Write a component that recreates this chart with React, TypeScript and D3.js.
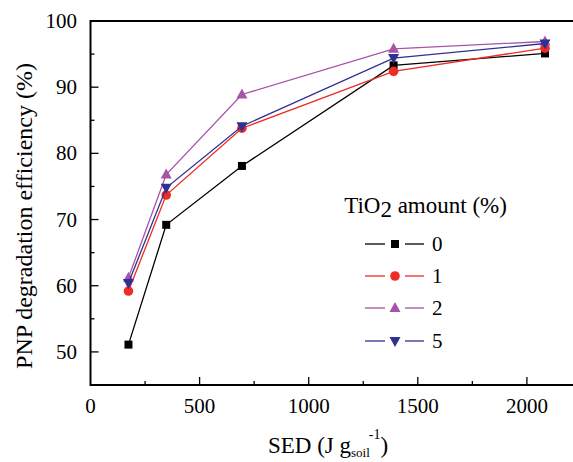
import React from "react";
import * as d3 from "d3";

const sed = [174, 347, 694, 1389, 2083];
const seriesNames = ["0", "1", "2", "5"];
const eff0 = [51.1, 69.2, 78.1, 93.3, 95.1];
const eff1 = [59.2, 73.7, 83.8, 92.4, 95.9];
const eff2 = [61.2, 76.8, 88.9, 95.8, 96.9];
const eff5 = [60.4, 74.8, 84.1, 94.4, 96.6];
const xTicks = [0, 500, 1000, 1500, 2000];
const yTicks = [50, 60, 70, 80, 90, 100];

const W = 573, H = 462;
const left = 90.5, top = 21, bottom = 385;

export default function App() {
  const x = d3.scaleLinear().domain([0, 2200]).range([left, left + 2200 * 0.2182]);
  const y = d3.scaleLinear().domain([45, 100]).range([bottom, top]);
  const series = [
    { name: seriesNames[0], vals: eff0, color: "#000000", shape: "square" },
    { name: seriesNames[1], vals: eff1, color: "#ee2b25", shape: "circle" },
    { name: seriesNames[2], vals: eff2, color: "#a653a8", shape: "up" },
    { name: seriesNames[3], vals: eff5, color: "#2f3191", shape: "down" },
  ];
  const line = d3.line<number>().x((_, i) => x(sed[i])).y((d) => y(d));
  const marker = (shape: string, cx: number, cy: number, color: string, key?: any) => {
    if (shape === "square") return <rect key={key} x={cx - 4} y={cy - 4} width={8} height={8} fill={color} />;
    if (shape === "circle") return <circle key={key} cx={cx} cy={cy} r={4.8} fill={color} />;
    if (shape === "up") return <path key={key} d={`M${cx},${cy - 6}L${cx + 5.5},${cy + 4}L${cx - 5.5},${cy + 4}Z`} fill={color} />;
    return <path key={key} d={`M${cx},${cy + 6}L${cx + 5.5},${cy - 4}L${cx - 5.5},${cy - 4}Z`} fill={color} />;
  };
  const font = "Liberation Serif";
  const ts = { fontFamily: font };
  const xMinor = d3.range(250, 2200, 500);
  const yMinor = d3.range(55, 100, 10);
  const legendY = [244, 276, 308, 341];
  return (
    <svg width={W} height={H} style={{ position: "absolute", left: 0, top: 0, background: "#fff", fontFamily: font }}>
      {series.map((s) => (
        <g key={s.name}>
          <path d={line(s.vals) || ""} fill="none" stroke={s.color} strokeWidth={1.3} />
          {s.vals.map((v, i) => marker(s.shape, x(sed[i]), y(v), s.color, i))}
        </g>
      ))}
      <line x1={left} x2={W} y1={top} y2={top} stroke="#000" strokeWidth={2} />
      <line x1={left} x2={W} y1={bottom} y2={bottom} stroke="#000" strokeWidth={2} />
      <line x1={left} x2={left} y1={top - 1} y2={bottom + 1} stroke="#000" strokeWidth={2} />
      {xTicks.map((t) => (
        <g key={t}>
          {t > 0 && <line x1={x(t)} x2={x(t)} y1={bottom} y2={bottom - 8} stroke="#000" strokeWidth={1.3} />}
          <text style={ts} x={x(t)} y={413} textAnchor="middle" fontSize={21}>{t}</text>
        </g>
      ))}
      {xMinor.map((t) => (
        <line key={t} x1={x(t)} x2={x(t)} y1={bottom} y2={bottom - 4} stroke="#000" strokeWidth={1.3} />
      ))}
      {yTicks.map((t) => (
        <g key={t}>
          {t < 100 && <line x1={left} x2={left + 8} y1={y(t)} y2={y(t)} stroke="#000" strokeWidth={1.3} />}
          <text style={ts} x={77} y={y(t) + 7} textAnchor="end" fontSize={21}>{t}</text>
        </g>
      ))}
      {yMinor.map((t) => (
        <line key={t} x1={left} x2={left + 4} y1={y(t)} y2={y(t)} stroke="#000" strokeWidth={1.3} />
      ))}
      <text style={ts} transform={`translate(32,216) rotate(-90)`} textAnchor="middle" fontSize={24}>
        PNP degradation efficiency (%)
      </text>
      <text style={ts} x={268} y={453} fontSize={23}>
        SED (J g<tspan fontSize={13} dy={4}>soil</tspan>
        <tspan fontSize={14} dx={-1} dy={-18}>-1</tspan>
        <tspan dy={14}>)</tspan>
      </text>
      <text style={ts} x={425.5} y={213} textAnchor="middle" fontSize={23}>
        TiO<tspan dy={4}>2</tspan><tspan dy={-4}> amount (%)</tspan>
      </text>
      {series.map((s, i) => (
        <g key={s.name}>
          <line x1={365} x2={385} y1={legendY[i]} y2={legendY[i]} stroke={s.color} strokeWidth={1.3} />
          <line x1={405} x2={424} y1={legendY[i]} y2={legendY[i]} stroke={s.color} strokeWidth={1.3} />
          {marker(s.shape, 395, legendY[i], s.color)}
          <text style={ts} x={432} y={legendY[i] + 7} fontSize={21}>{s.name}</text>
        </g>
      ))}
    </svg>
  );
}
